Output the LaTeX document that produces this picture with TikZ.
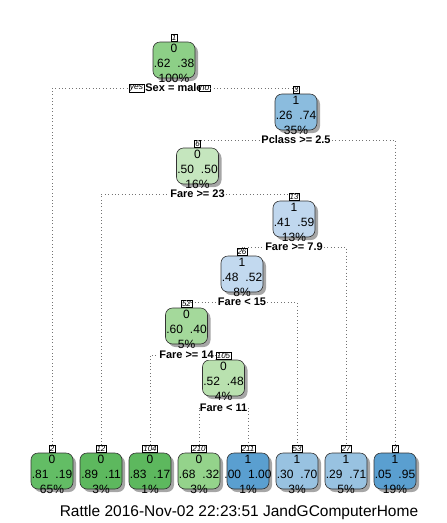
\documentclass[tikz,border=0pt]{standalone}
\usepackage{fontspec}
\setmainfont{Liberation Sans}
\usetikzlibrary{positioning,shadows}

\definecolor{gA}{RGB}{141,207,135}
\definecolor{gB}{RGB}{99,189,101}
\definecolor{gC}{RGB}{93,184,94}
\definecolor{gD}{RGB}{197,230,190}
\definecolor{gE}{RGB}{164,217,155}
\definecolor{gF}{RGB}{185,225,175}
\definecolor{gG}{RGB}{148,211,139}
\definecolor{bA}{RGB}{139,188,222}
\definecolor{bB}{RGB}{192,215,238}
\definecolor{bC}{RGB}{194,217,239}
\definecolor{bD}{RGB}{90,159,208}
\definecolor{bE}{RGB}{152,194,225}

\tikzset{
  treebox/.style={draw=black!80, line width=0.6pt, rounded corners=7pt,
    minimum width=42pt, minimum height=36pt, inner sep=0pt,
    drop shadow={shadow xshift=3pt, shadow yshift=-3pt, fill=black, opacity=0.35}},
  boxtext/.style={align=center, inner sep=0pt, yshift=-3pt,
    font=\fontsize{12}{15}\selectfont},
  boxnum/.style={draw, fill=white, line width=0.4pt, inner sep=0.8pt,
    font=\fontsize{8}{8}\selectfont\itshape},
  splitlabel/.style={fill=white, inner sep=1pt,
    font=\fontsize{11}{11}\selectfont\bfseries},
  yesno/.style={draw, fill=white, line width=0.4pt, inner sep=0.8pt,
    font=\fontsize{8.5}{8.5}\selectfont\itshape},
  branch/.style={black!55, line width=0.6pt, dash pattern=on 0.8pt off 2.6pt},
}

\begin{document}
\begin{tikzpicture}[x=1pt,y=-1pt]
  \useasboundingbox (0,0) rectangle (447,523);

  % Inner nodes
  \node[treebox, fill=gA, label={[boxnum, name=k1]north:1},
    label={[boxtext]center:0\\.62\hspace{7pt}.38\\100\%}] (n1) at (174,60) {};
  \node[treebox, fill=bA, label={[boxnum, name=k3]north:3},
    label={[boxtext]center:1\\.26\hspace{7pt}.74\\35\%}] (n3) at (296,112) {};
  \node[treebox, fill=gD, label={[boxnum, name=k6]north:6},
    label={[boxtext]center:0\\.50\hspace{7pt}.50\\16\%}] (n6) at (197.5,166) {};
  \node[treebox, fill=bB, label={[boxnum, name=k13]north:13},
    label={[boxtext]center:1\\.41\hspace{7pt}.59\\13\%}] (n13) at (294,219) {};
  \node[treebox, fill=bC, label={[boxnum, name=k26]north:26},
    label={[boxtext]center:1\\.48\hspace{7pt}.52\\8\%}] (n26) at (242,274) {};
  \node[treebox, fill=gE, label={[boxnum, name=k52]north:52},
    label={[boxtext]center:0\\.60\hspace{7pt}.40\\5\%}] (n52) at (186.5,326) {};
  \node[treebox, fill=gF, label={[boxnum, name=k105]north:105},
    label={[boxtext]center:0\\.52\hspace{7pt}.48\\4\%}] (n105) at (223.5,378) {};

  % Leaves
  \node[treebox, fill=gB, label={[boxnum, name=k2]north:2},
    label={[boxtext]center:0\\.81\hspace{7pt}.19\\65\%}] (n2) at (52,471) {};
  \node[treebox, fill=gC, label={[boxnum, name=k12]north:12},
    label={[boxtext]center:0\\.89\hspace{7pt}.11\\3\%}] (n12) at (101,471) {};
  \node[treebox, fill=gC, label={[boxnum, name=k104]north:104},
    label={[boxtext]center:0\\.83\hspace{7pt}.17\\1\%}] (n104) at (150,471) {};
  \node[treebox, fill=gG, label={[boxnum, name=k210]north:210},
    label={[boxtext]center:0\\.68\hspace{7pt}.32\\3\%}] (n210) at (199,471) {};
  \node[treebox, fill=bD, label={[boxnum, name=k211]north:211},
    label={[boxtext]center:1\\.00\hspace{7pt}1.00\\1\%}] (n211) at (248,471) {};
  \node[treebox, fill=bE, label={[boxnum, name=k53]north:53},
    label={[boxtext]center:1\\.30\hspace{7pt}.70\\3\%}] (n53) at (297,471) {};
  \node[treebox, fill=bE, label={[boxnum, name=k27]north:27},
    label={[boxtext]center:1\\.29\hspace{7pt}.71\\5\%}] (n27) at (346,471) {};
  \node[treebox, fill=bD, label={[boxnum, name=k7]north:7},
    label={[boxtext]center:1\\.05\hspace{7pt}.95\\19\%}] (n7) at (395,471) {};

  % Split labels
  \node[splitlabel] (s1) at (174,88) {Sex = male};
  \node[yesno, left=0pt of s1] (yes) {yes};
  \node[yesno, right=-5pt of s1] (no) {no};
  \node[splitlabel] (s3) at (296,140) {Pclass >= 2.5};
  \node[splitlabel] (s6) at (197.5,194) {Fare >= 23};
  \node[splitlabel] (s13) at (294,247) {Fare >= 7.9};
  \node[splitlabel] (s26) at (242,302) {Fare < 15};
  \node[splitlabel] (s52) at (186.5,355) {Fare >= 14};
  \node[splitlabel] (s105) at (223.5,408) {Fare < 11};

  % Branches
  \draw[branch] (k2.north) |- (yes);
  \draw[branch] (no) -| (k3.north);
  \draw[branch] (k6.north) |- (s3) -| (k7.north);
  \draw[branch] (k12.north) |- (s6) -| (k13.north);
  \draw[branch] (k26.north) |- (s13) -| (k27.north);
  \draw[branch] (k52.north) |- (s26) -| (k53.north);
  \draw[branch] (k104.north) |- (s52) -| (k105.north);
  \draw[branch] (k210.north) |- (s105) -| (k211.north);

  % Footer
  \node[font=\fontsize{15.5}{15.5}\selectfont] (footer) at (239,512)
    {Rattle 2016-Nov-02 22:23:51 JandGComputerHome};
\end{tikzpicture}
\end{document}
